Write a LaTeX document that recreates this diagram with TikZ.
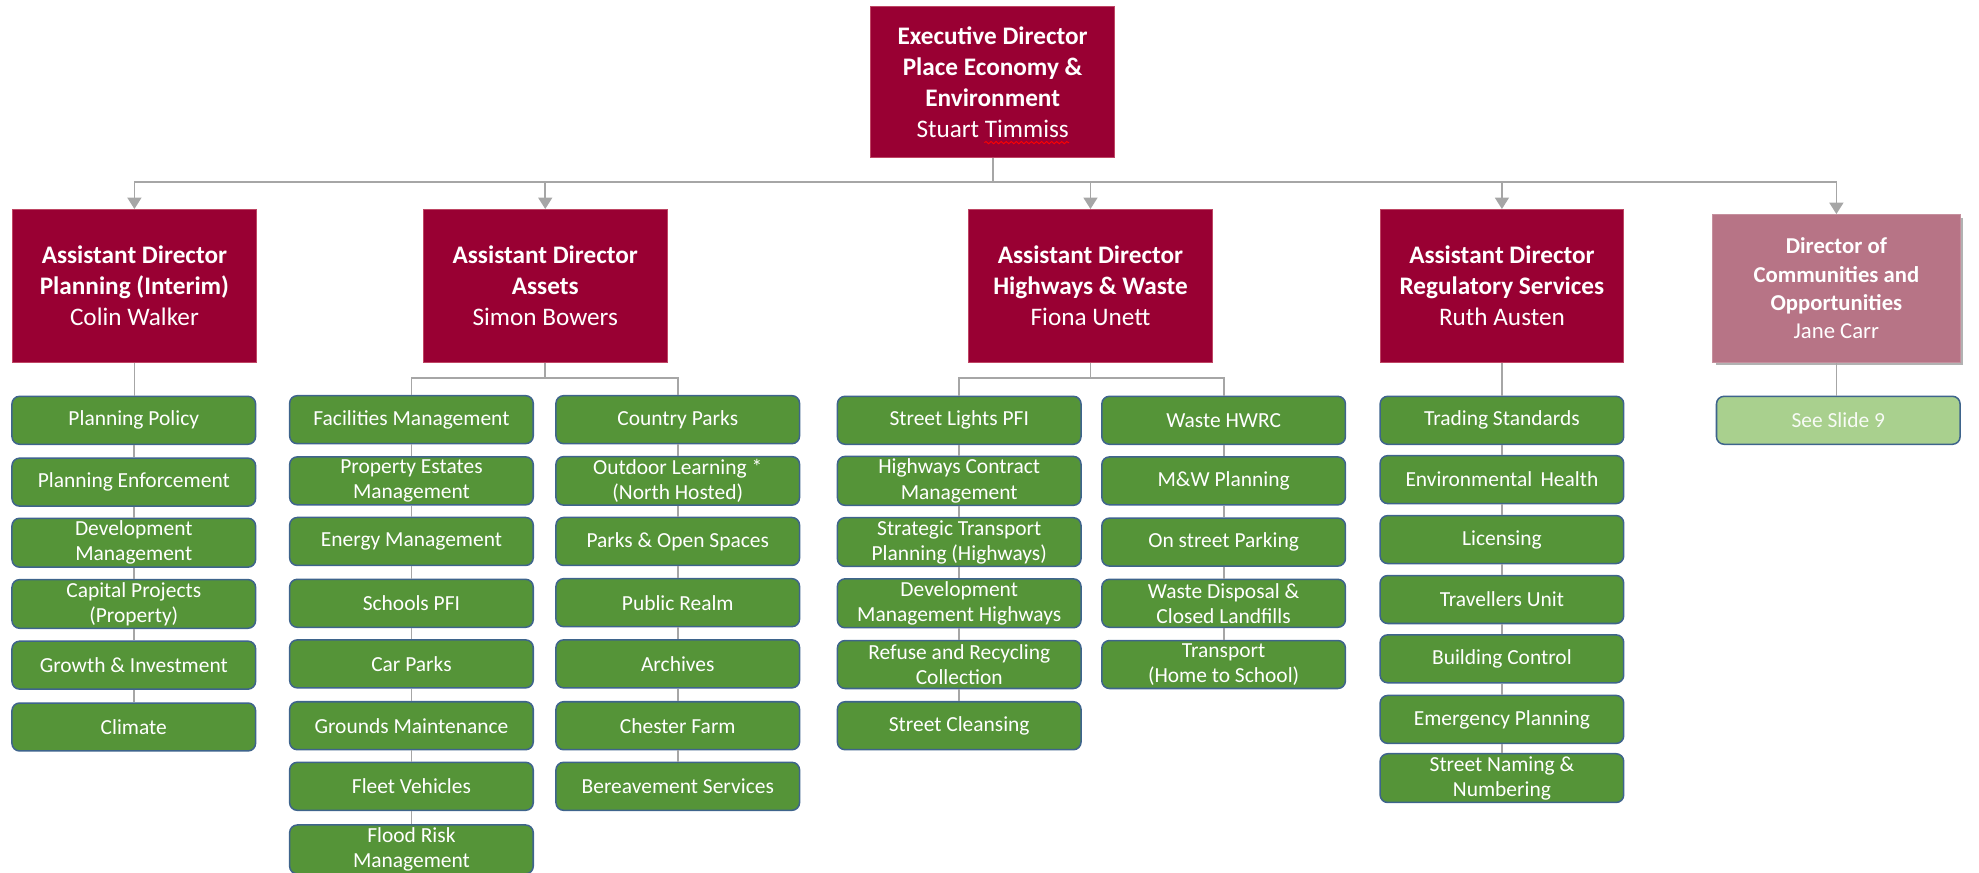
\documentclass[tikz,border=0pt]{standalone}
\usepackage{fontspec}
\setmainfont{Carlito}
\usetikzlibrary{arrows.meta,shadows,decorations.pathmorphing}
\definecolor{maroon}{RGB}{153,0,51}
\definecolor{maroonedge}{RGB}{190,70,100}
\definecolor{dirfill}{RGB}{183,116,134}
\definecolor{gfill}{RGB}{85,148,56}
\definecolor{gedge}{RGB}{62,100,140}
\definecolor{lgfill}{RGB}{169,208,142}
\definecolor{linegray}{RGB}{166,166,166}
\tikzset{
  adbox/.style={fill=maroon, draw=maroonedge, line width=0.4pt, text=white,
    minimum width=96.5pt, minimum height=60.5pt, align=center, inner sep=2pt,
    font=\fontsize{10}{12.3}\selectfont},
  dirbox/.style={fill=dirfill, draw=dirfill!80!white, line width=0.4pt, text=white,
    minimum width=98pt, minimum height=58.5pt, align=center, inner sep=2pt,
    font=\fontsize{9}{11.2}\selectfont,
    drop shadow={shadow xshift=1.2pt, shadow yshift=-1.2pt, opacity=0.3, fill=black}},
  gbox/.style={fill=gfill, draw=gedge, line width=0.6pt, rounded corners=3pt, text=white,
    minimum width=96.5pt, minimum height=19pt, align=center, inner sep=1pt,
    font=\fontsize{8.5}{10}\selectfont},
  lgbox/.style={gbox, fill=lgfill, text=white!92!lgfill},
  conn/.style={draw=linegray, line width=0.7pt},
  arr/.style={conn, -{Triangle[width=5.5pt,length=4.5pt]}},
  spellwave/.style={draw=red, line width=0.35pt, decorate,
    decoration={snake, amplitude=0.45pt, segment length=2pt}},
}
\begin{document}
\begin{tikzpicture}[x=0.5pt,y=-0.5pt]
\useasboundingbox (0,0) rectangle (1568,691);
\clip (0,0) rectangle (1568,691);

% top level
\node[adbox, minimum height=60pt] (exec) at (786.5,65)
  {\textbf{Executive Director}\\\textbf{Place Economy \&}\\\textbf{Environment}\\Stuart Timmiss};
\draw[spellwave] ([shift={(-6.5,48)}]exec.center) -- ([shift={(60.5,48)}]exec.center);

\node[adbox] (adp) at (106.5,226.5) {\textbf{Assistant Director}\\\textbf{Planning (Interim)}\\Colin Walker};
\node[adbox] (ada) at (432,226.5) {\textbf{Assistant Director}\\\textbf{Assets}\\Simon Bowers};
\node[adbox] (adh) at (864,226.5) {\textbf{Assistant Director}\\\textbf{Highways \& Waste}\\Fiona Unett};
\node[adbox] (adr) at (1190,226.5) {\textbf{Assistant Director}\\\textbf{Regulatory Services}\\Ruth Austen};
\node[dirbox] (dir) at (1455,228.5) {\textbf{Director of}\\\textbf{Communities and}\\\textbf{Opportunities}\\Jane Carr};

% planning column
\node[gbox] (pp) at (106,333) {Planning Policy};
\node[gbox] (pe) at (106,382) {Planning Enforcement};
\node[gbox] (dm) at (106,430) {Development\\Management};
\node[gbox] (cpp) at (106,478.5) {Capital Projects\\(Property)};
\node[gbox] (gi) at (106,527) {Growth \& Investment};
\node[gbox] (cl) at (106,576) {Climate};

% assets left
\node[gbox] (fm) at (326,332.5) {Facilities Management};
\node[gbox] (pem) at (326,381) {Property Estates\\Management};
\node[gbox] (em) at (326,429) {Energy Management};
\node[gbox] (sp) at (326,478) {Schools PFI};
\node[gbox] (cap) at (326,526) {Car Parks};
\node[gbox] (gm) at (326,575) {Grounds Maintenance};
\node[gbox] (fv) at (326,623) {Fleet Vehicles};
\node[gbox] (fr) at (326,673) {Flood Risk\\Management};

% assets right
\node[gbox] (cop) at (537,332.5) {Country Parks};
\node[gbox] (ol) at (537,381) {Outdoor Learning *\\(North Hosted)};
\node[gbox] (pos) at (537,429) {Parks \& Open Spaces};
\node[gbox] (pr) at (537,477.5) {Public Realm};
\node[gbox] (ar) at (537,526) {Archives};
\node[gbox] (cf) at (537,575) {Chester Farm};
\node[gbox] (bs) at (537,623) {Bereavement Services};

% highways left
\node[gbox] (sl) at (760,333) {Street Lights PFI};
\node[gbox] (hcm) at (760,381) {Highways Contract\\Management};
\node[gbox] (stp) at (760,429.5) {Strategic Transport\\Planning (Highways)};
\node[gbox] (dmh) at (760,478) {Development\\Management Highways};
\node[gbox] (rrc) at (760,526.5) {Refuse and Recycling\\Collection};
\node[gbox] (sc) at (760,575) {Street Cleansing};

% highways right
\node[gbox] (wh) at (969.5,333) {Waste HWRC};
\node[gbox] (mw) at (969.5,381) {M\&W Planning};
\node[gbox] (osp) at (969.5,429.5) {On street Parking};
\node[gbox] (wd) at (969.5,478) {Waste Disposal \&\\Closed Landfills};
\node[gbox] (tr) at (969.5,526.5) {Transport\\(Home to School)};

% regulatory
\node[gbox] (ts) at (1190,333) {Trading Standards};
\node[gbox] (eh) at (1190,380) {Environmental~\,Health};
\node[gbox] (li) at (1190,427.5) {Licensing};
\node[gbox] (tu) at (1190,475) {Travellers Unit};
\node[gbox] (bc) at (1190,522) {Building Control};
\node[gbox] (ep) at (1190,570) {Emergency Planning};
\node[gbox] (sn) at (1190,616.5) {Street Naming \&\\Numbering};

% director
\node[lgbox] (ss) at (1456.5,333) {See Slide 9};

% connectors
\coordinate (bus) at (786.5,144);
\draw[conn] (exec.south) -- (bus);
\foreach \n in {adp,ada,adh,adr,dir} \draw[arr] (bus) -| (\n.north);

\foreach \a/\b in {adp/pp,pp/pe,pe/dm,dm/cpp,cpp/gi,gi/cl,
                   fm/pem,pem/em,em/sp,sp/cap,cap/gm,gm/fv,fv/fr,
                   cop/ol,ol/pos,pos/pr,pr/ar,ar/cf,cf/bs,
                   sl/hcm,hcm/stp,stp/dmh,dmh/rrc,rrc/sc,
                   wh/mw,mw/osp,osp/wd,wd/tr,
                   adr/ts,ts/eh,eh/li,li/tu,tu/bc,bc/ep,ep/sn,
                   dir/ss}
  \draw[conn] (\a.south) -- (\a.south |- \b.north);

\coordinate (asb) at (432,299.5);
\draw[conn] (ada.south) -- (asb);
\draw[conn] (asb) -| (fm.north);
\draw[conn] (asb) -| (cop.north);

\coordinate (hwb) at (864,299.5);
\draw[conn] (adh.south) -- (hwb);
\draw[conn] (hwb) -| (sl.north);
\draw[conn] (hwb) -| (wh.north);
\end{tikzpicture}
\end{document}
